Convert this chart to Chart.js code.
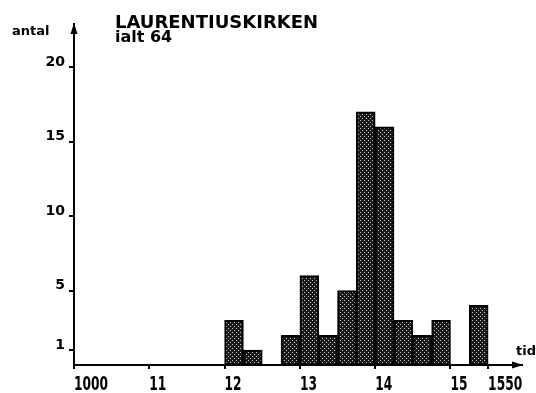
<!DOCTYPE html>
<html>
<head>
<meta charset="utf-8">
<script src="https://cdn.jsdelivr.net/npm/chart.js@4.4.0/dist/chart.umd.min.js"></script>
<style>
  body { margin: 0; background: #fff; }
  canvas { display: block; }
</style>
</head>
<body>
<canvas id="laurentius" width="536" height="393"></canvas>
<script>
// antal pr. 25-årsperiode
var periodeStart = [1200, 1225, 1275, 1300, 1325, 1350, 1375, 1400, 1425, 1450, 1475, 1525];
var antal = [3, 1, 2, 6, 2, 5, 17, 16, 3, 2, 3, 4];
var periodeLaengde = 25;
var tidTicks = [1000, 1100, 1200, 1300, 1400, 1500, 1550];
var tidLabels = ['1000', '11', '12', '13', '14', '15', '1550'];
var antalTicks = [1, 5, 10, 15, 20];

var ialt = antal.reduce(function (a, b) { return a + b; }, 0);

// rastermønster til søjlerne
function raster() {
    var c = document.createElement('canvas');
    c.width = 4;
    c.height = 4;
    var g = c.getContext('2d');
    g.fillStyle = '#1a1a1a';
    g.fillRect(0, 0, 4, 4);
    g.fillStyle = '#c8c8c8';
    g.fillRect(0, 0, 1, 1);
    g.fillRect(2, 2, 1, 1);
    return g.createPattern(c, 'repeat');
}

// overskrift, aksetekster, smalle årstal og pile
var tekster = {
    id: 'tekster',
    afterDraw: function (chart) {
        var ctx = chart.ctx;
        var a = chart.chartArea;
        var xs = chart.scales.x;
        ctx.save();
        ctx.fillStyle = '#000';
        ctx.textBaseline = 'alphabetic';
        ctx.font = 'bold 18px "DejaVu Sans"';
        ctx.fillText('LAURENTIUSKIRKEN', 115, 28);
        ctx.font = 'bold 16px "DejaVu Sans"';
        ctx.fillText('ialt ' + ialt, 115, 42);
        ctx.font = 'bold 13px "DejaVu Sans"';
        ctx.fillText('antal', 12, 35);
        ctx.textAlign = 'right';
        ctx.fillText('tid', 536, 355);

        // årstal under x-aksen, sammenpresset vandret
        ctx.textAlign = 'left';
        ctx.font = 'bold 20px "DejaVu Sans Condensed", "DejaVu Sans"';
        tidTicks.forEach(function (v, i) {
            ctx.save();
            ctx.translate(xs.getPixelForValue(v), 390);
            ctx.scale(0.68, 1);
            ctx.fillText(tidLabels[i], 0, 0);
            ctx.restore();
        });

        ctx.beginPath();
        ctx.moveTo(a.left, a.top - 1);
        ctx.lineTo(a.left - 3.5, a.top + 10);
        ctx.lineTo(a.left + 3.5, a.top + 10);
        ctx.closePath();
        ctx.moveTo(a.right + 1, a.bottom);
        ctx.lineTo(a.right - 10, a.bottom - 3.5);
        ctx.lineTo(a.right - 10, a.bottom + 3.5);
        ctx.closePath();
        ctx.fill();
        ctx.restore();
    }
};

var myChart = new Chart(document.getElementById('laurentius'), {
    type: 'bar',
    data: {
        datasets: [{
            data: periodeStart.map(function (s, i) {
                return { x: s + periodeLaengde / 2, y: antal[i] };
            }),
            backgroundColor: raster(),
            borderColor: '#000',
            borderWidth: 2,
            borderSkipped: false,
            barPercentage: 1,
            categoryPercentage: 1
        }]
    },
    options: {
        responsive: false,
        animation: false,
        layout: {
            padding: { top: 24, right: 14, left: 0, bottom: 0 }
        },
        plugins: {
            legend: { display: false },
            tooltip: { enabled: false }
        },
        scales: {
            x: {
                type: 'linear',
                min: 1000,
                max: 1595,
                offset: false,
                grid: {
                    offset: false,
                    drawOnChartArea: false,
                    tickLength: 4,
                    color: '#000',
                    lineWidth: 2
                },
                border: { color: '#000', width: 2 },
                afterBuildTicks: function (s) {
                    s.ticks = tidTicks.map(function (v) { return { value: v }; });
                },
                afterFit: function (s) { s.height = 28; },
                ticks: { display: false }
            },
            y: {
                min: 0,
                max: 22.9,
                grid: {
                    drawOnChartArea: false,
                    tickLength: 5,
                    color: '#000',
                    lineWidth: 2
                },
                border: { color: '#000', width: 2 },
                afterBuildTicks: function (s) {
                    s.ticks = antalTicks.map(function (v) { return { value: v }; });
                },
                afterFit: function (s) { s.width = 74; },
                ticks: {
                    padding: 4,
                    labelOffset: -5,
                    color: '#000',
                    font: { family: '"DejaVu Sans"', size: 14, weight: 'bold' }
                }
            }
        }
    },
    plugins: [tekster]
});
</script>
</body>
</html>
